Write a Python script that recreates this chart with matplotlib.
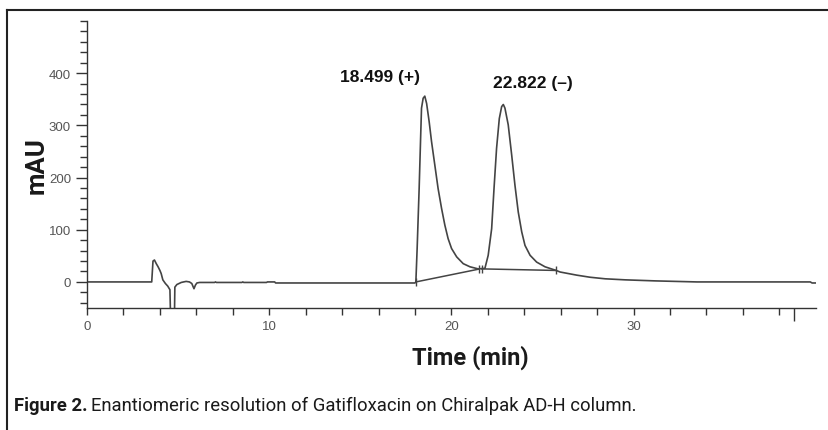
import numpy as np
import matplotlib.pyplot as plt
from matplotlib.lines import Line2D

# chromatogram trace (time in min, signal in mAU)
time = [0.0, 3.55, 3.62, 3.7, 3.8, 3.9, 4.0, 4.07, 4.16, 4.3, 4.43, 4.55, 4.58,
        4.80, 4.82, 4.93, 5.05, 5.17, 5.3, 5.44, 5.62, 5.75, 5.87, 5.95, 6.03,
        6.18, 7.0, 7.05, 7.1, 8.5, 8.55, 8.6, 9.85, 9.9, 10.3, 10.35, 18.0,
        18.05, 18.12, 18.23, 18.31, 18.36, 18.45, 18.54, 18.64, 18.78, 18.91,
        19.09, 19.27, 19.46, 19.64, 19.82, 20.01, 20.29, 20.65, 21.02, 21.47,
        21.66, 21.84, 22.02, 22.21, 22.34, 22.48, 22.63, 22.76, 22.85, 22.94,
        23.12, 23.31, 23.49, 23.67, 23.86, 24.04, 24.32, 24.68, 25.14, 25.75,
        25.97, 26.88, 27.61, 28.44, 29.54, 31.19, 33.48, 35.86, 39.7, 39.8, 40.0]
mau = [0, 0, 40, 42, 35, 29, 22, 16, 4, -3, -8, -15, -60,
       -60, -10, -5, -3, -1, 0, 1, 0, -3, -13, -6, -2,
       -1, -1, 0, -1, -1, 0, -1, -1, 0, 0, -2, -2,
       0, 64, 179, 275, 333, 352, 356, 342, 307, 269,
       224, 179, 141, 109, 83, 64, 48, 35, 29, 25,
       25.6, 26, 51, 102, 179, 256, 313, 336, 340, 333,
       301, 243, 185, 134, 96, 70, 51, 38, 29, 22,
       19, 13, 9, 6, 4, 2, 0, 0, 0, -2, -2]

# integration baselines
base_t = [18.05, 21.5, 21.66, 25.75]
base_v = [0, 24.5, 25, 22]

peak_rt = [18.499, 22.822]
peak_sign = ['(+)', '(\u2013)']
label_x = [16.1, 24.5]
label_y = [394, 382]

fig = plt.figure(figsize=(8.29, 4.31), dpi=100)
ax = fig.add_axes([0.105, 0.283, 0.879, 0.666])

ink = '#444444'
ax.plot(time, mau, color=ink, lw=1.2)
ax.plot(base_t[:2], base_v[:2], color=ink, lw=1.1)
ax.plot(base_t[2:], base_v[2:], color=ink, lw=1.1)
ax.plot(base_t, base_v, ls='none', marker='|', ms=6, mew=1.0, color=ink)

for rt, s, lx, ly in zip(peak_rt, peak_sign, label_x, label_y):
    ax.text(lx, ly, f'{rt:.3f} {s}', ha='center', va='center',
            fontsize=12.5, fontweight='semibold', family='Liberation Sans',
            color='#111111')

ax.set_xlim(0, 40)
ax.set_ylim(-50, 500)
for sp in ['top', 'right']:
    ax.spines[sp].set_visible(False)
for sp in ['left', 'bottom']:
    ax.spines[sp].set_color('#333333')
    ax.spines[sp].set_linewidth(1.0)

ax.set_xticks([0, 10, 20, 30, 38.8], labels=['0', '10', '20', '30', ''])
ax.set_xticks(np.arange(2, 40, 2), minor=True)
ax.set_yticks([0, 100, 200, 300, 400])
ax.set_yticks(np.arange(-40, 501, 20), minor=True)
ax.tick_params(axis='both', which='both', color='#333333', direction='out',
               labelcolor='#555555', labelsize=9.5)
ax.tick_params(axis='y', which='major', length=8, width=1.0)
ax.tick_params(axis='y', which='minor', length=5, width=1.0)
ax.tick_params(axis='x', which='major', length=5, width=1.0)
ax.tick_params(axis='x', which='minor', length=5, width=1.0)
ax.xaxis.get_major_ticks()[-1].tick1line.set_markersize(9)
for lab in ax.get_xticklabels() + ax.get_yticklabels():
    lab.set_family('Liberation Sans')

cond = 'Roboto'
ax.set_ylabel('mAU', fontsize=18.5, fontweight='bold', family=cond, labelpad=0,
              color='#1a1a1a')
fig.text(470 / 829, 1 - 358 / 431, 'Time (min)', ha='center', va='center',
         fontsize=17, fontweight='bold', family=cond, color='#1a1a1a')

# caption
fig.canvas.draw()
r = fig.canvas.get_renderer()
t1 = fig.text(14 / 829, 1 - 406 / 431, 'Figure 2.', ha='left', va='center',
              fontsize=13.3, fontweight='bold', family=cond, color='#1a1a1a')
bb = t1.get_window_extent(r)
fig.text((bb.x1 + 4) / 829, 1 - 406 / 431,
         'Enantiomeric resolution of Gatifloxacin on Chiralpak AD-H column.',
         ha='left', va='center', fontsize=13.3, family=cond, color='#1a1a1a')

# outer frame (top and left edges visible)
fig.add_artist(Line2D([7 / 829, 1.0], [1 - 11 / 431, 1 - 11 / 431],
                      transform=fig.transFigure, color='#222222', lw=1.5))
fig.add_artist(Line2D([7 / 829, 7 / 829], [1 - 11 / 431, 0.0],
                      transform=fig.transFigure, color='#222222', lw=1.5))

fig.savefig('out.png', dpi=100)
